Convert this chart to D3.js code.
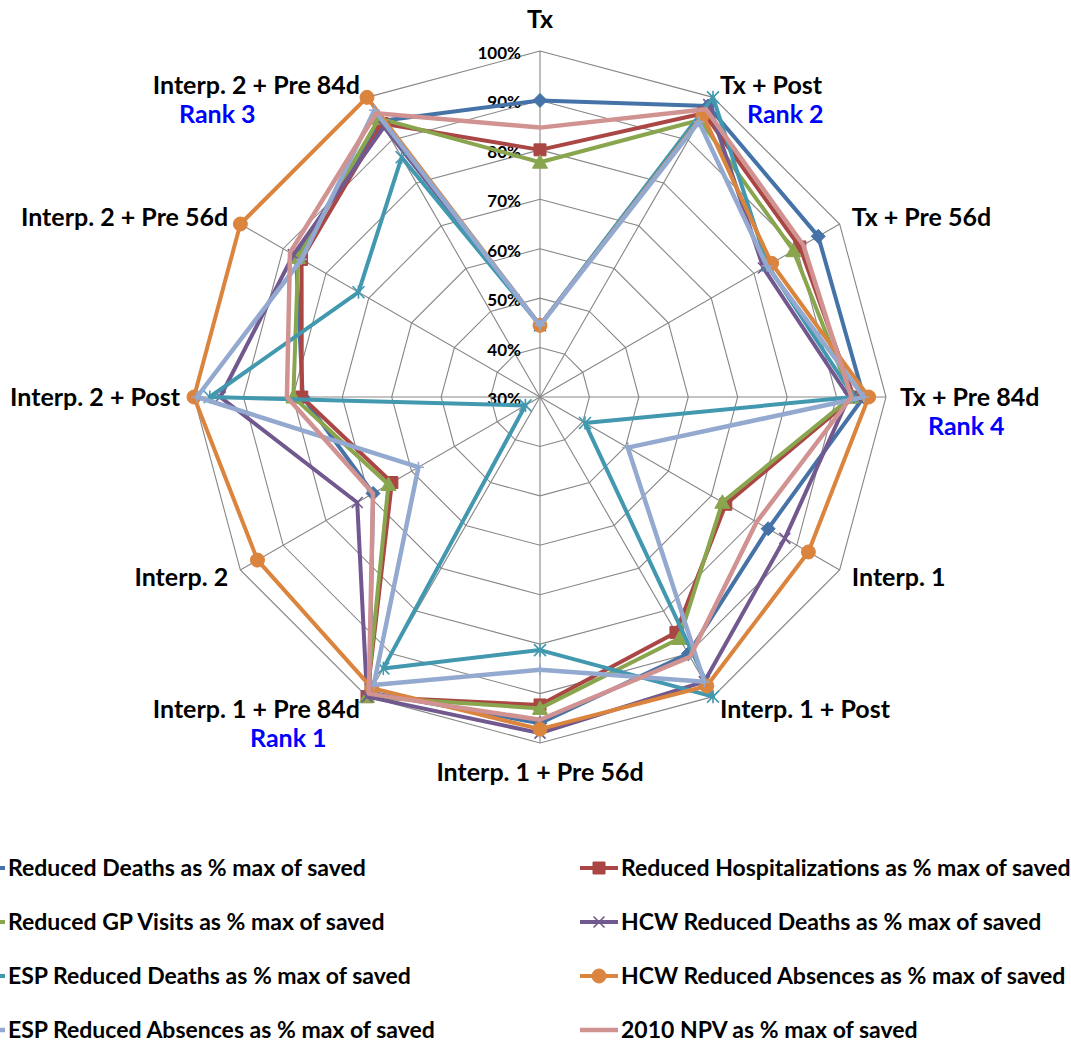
<!DOCTYPE html>
<html>
<head>
<meta charset="utf-8">
<script src="https://cdn.jsdelivr.net/npm/d3@7"></script>
<style>
  body { margin: 0; background: #fff; }
  svg { display: block; font-family: Lato, "Open Sans", sans-serif; font-weight: 700; }
</style>
</head>
<body>
<svg id="chart" width="1071" height="1044"></svg>
<script>
// Strategy axes, clockwise from the top
const categories = [
  "Tx", "Tx + Post", "Tx + Pre 56d", "Tx + Pre 84d",
  "Interp. 1", "Interp. 1 + Post", "Interp. 1 + Pre 56d", "Interp. 1 + Pre 84d",
  "Interp. 2", "Interp. 2 + Post", "Interp. 2 + Pre 56d", "Interp. 2 + Pre 84d"
];

// Radial axis ticks (fraction of the maximum saved)
const levelTicks = [0.3, 0.4, 0.5, 0.6, 0.7, 0.8, 0.9, 1.0];

// Each outcome as a share of the best strategy's result
const reducedDeaths        = [0.900, 0.980, 0.950, 0.955, 0.833, 0.900, 0.960, 0.990, 0.690, 0.780, 0.870, 0.945];
const reducedHosp          = [0.800, 0.963, 0.907, 0.935, 0.734, 0.850, 0.923, 1.000, 0.646, 0.782, 0.857, 0.939];
const reducedGPVisits      = [0.775, 0.947, 0.892, 0.930, 0.726, 0.864, 0.930, 1.000, 0.654, 0.799, 0.865, 0.951];
const hcwReducedDeaths     = [0.445, 0.983, 0.822, 0.925, 0.872, 0.965, 0.980, 1.000, 0.727, 0.947, 0.876, 0.931];
const espReducedDeaths     = [0.445, 1.000, 0.832, 0.935, 0.405, 1.000, 0.812, 0.934, 0.334, 0.968, 0.724, 0.860];
const hcwReducedAbsences   = [0.445, 0.959, 0.841, 0.965, 0.927, 0.975, 0.972, 0.980, 0.960, 1.000, 1.000, 1.000];
const espReducedAbsences   = [0.445, 0.943, 0.830, 0.955, 0.505, 0.965, 0.852, 0.973, 0.584, 0.994, 0.857, 0.970];
const npv2010              = [0.845, 0.972, 0.915, 0.930, 0.806, 0.907, 0.953, 0.993, 0.690, 0.812, 0.884, 0.963];

const seriesNames = [
  "Reduced Deaths as % max of saved",
  "Reduced Hospitalizations as % max of saved",
  "Reduced GP Visits as % max of saved",
  "HCW Reduced Deaths as % max of saved",
  "ESP Reduced Deaths as % max of saved",
  "HCW Reduced Absences as % max of saved",
  "ESP Reduced Absences as % max of saved",
  "2010 NPV as % max of saved"
];
const seriesValues = [
  reducedDeaths, reducedHosp, reducedGPVisits, hcwReducedDeaths,
  espReducedDeaths, hcwReducedAbsences, espReducedAbsences, npv2010
];

// Rank notes attached to axis labels
const rankNotes = [
  { category: "Interp. 1 + Pre 84d", text: "Rank 1" },
  { category: "Tx + Post",           text: "Rank 2" },
  { category: "Interp. 2 + Pre 84d", text: "Rank 3" },
  { category: "Tx + Pre 84d",        text: "Rank 4" }
];

// ---- styling ----
const colors  = ["#4572A7", "#AA4643", "#89A54E", "#71588F", "#4198AF", "#DB843D", "#93A9CF", "#D19392"];
const markers = ["diamond", "square", "triangle", "times", "star", "circle", "plus", null];
const widths  = [4, 4, 4, 4, 4, 4, 4.5, 4.5];
// horizontal shift of each rank note relative to the left edge of its axis label
const rankDx  = { "Rank 1": 72, "Rank 2": 27, "Rank 3": 1, "Rank 4": 28 };
const labelWidth = 182;

const cx = 540, cy = 397, R = 346;
const svg = d3.select("#chart");
svg.append("rect").attr("width", 1071).attr("height", 1044).attr("fill", "#fff");

const r = d3.scaleLinear().domain([0.3, 1.0]).range([0, R]);
const angle = d3.scaleLinear().domain([0, categories.length]).range([0, 2 * Math.PI]);

const plot = svg.append("g").attr("transform", `translate(${cx},${cy})`);

// grid polygons
const ring = d3.lineRadial()
  .angle((d, i) => angle(i))
  .radius(d => r(d))
  .curve(d3.curveLinearClosed);

plot.append("g").selectAll("path")
  .data(levelTicks.filter(t => t > 0.3))
  .join("path")
  .attr("d", t => ring(categories.map(() => t)))
  .attr("fill", "none")
  .attr("stroke", "#878787")
  .attr("stroke-width", 1.1);

// spokes
plot.append("g").selectAll("line")
  .data(categories)
  .join("line")
  .attr("x1", 0).attr("y1", 0)
  .attr("x2", (d, i) => d3.pointRadial(angle(i), r(1))[0])
  .attr("y2", (d, i) => d3.pointRadial(angle(i), r(1))[1])
  .attr("stroke", "#878787")
  .attr("stroke-width", 1.1);

// tick labels along the top spoke
const pct = d3.format(".0%");
plot.append("g").selectAll("text")
  .data(levelTicks)
  .join("text")
  .attr("x", -19)
  .attr("y", t => -r(t) + 8)
  .attr("text-anchor", "end")
  .attr("font-size", 17)
  .attr("fill", "#000")
  .text(t => pct(t));

// marker shapes
const symbolDefs = {
  diamond:  { draw(c, s) { const h = Math.sqrt(s) / 2; c.moveTo(0, -h); c.lineTo(h, 0); c.lineTo(0, h); c.lineTo(-h, 0); c.closePath(); } },
  square:   { draw(c, s) { const h = Math.sqrt(s) / 2; c.rect(-h, -h, 2 * h, 2 * h); } },
  triangle: { draw(c, s) { const h = Math.sqrt(s) / 2; c.moveTo(0, -h); c.lineTo(h, h * 0.8); c.lineTo(-h, h * 0.8); c.closePath(); } },
  circle:   { draw(c, s) { const h = Math.sqrt(s) / 2; c.moveTo(h, 0); c.arc(0, 0, h, 0, 2 * Math.PI); } },
  times:    { draw(c, s) { const h = Math.sqrt(s) / 2; c.moveTo(-h, -h); c.lineTo(h, h); c.moveTo(-h, h); c.lineTo(h, -h); } },
  plus:     { draw(c, s) { const h = Math.sqrt(s) / 2; c.moveTo(-h, 0); c.lineTo(h, 0); c.moveTo(0, -h); c.lineTo(0, h); } },
  star:     { draw(c, s) { const h = Math.sqrt(s) / 2; c.moveTo(-h, -h); c.lineTo(h, h); c.moveTo(-h, h); c.lineTo(h, -h); c.moveTo(0, -h * 1.1); c.lineTo(0, h * 1.1); } }
};
const markerSize = { diamond: 14, square: 12, triangle: 15, circle: 14, times: 11, plus: 11, star: 12 };
const strokeMarker = { times: true, plus: true, star: true };

function drawMarker(g, kind, color, x, y) {
  if (!kind) return;
  const s = markerSize[kind];
  const p = d3.symbol().type(symbolDefs[kind]).size(s * s)();
  g.append("path")
    .attr("d", p)
    .attr("transform", `translate(${x},${y})`)
    .attr("fill", strokeMarker[kind] ? "none" : color)
    .attr("stroke", color)
    .attr("stroke-width", strokeMarker[kind] ? 1.6 : 1);
}

// series
const seriesLayer = plot.append("g");
seriesValues.forEach((vals, si) => {
  const g = seriesLayer.append("g");
  g.append("path")
    .attr("d", ring(vals))
    .attr("fill", "none")
    .attr("stroke", colors[si])
    .attr("stroke-width", widths[si])
    .attr("stroke-linejoin", "round");
  vals.forEach((v, i) => {
    const [x, y] = d3.pointRadial(angle(i), r(v));
    drawMarker(g, markers[si], colors[si], x, y);
  });
});

// axis labels
const labelLayer = svg.append("g").attr("font-size", 25).attr("fill", "#000");
const labelPos = {};
categories.forEach((name, i) => {
  const a = angle(i);
  const sx = Math.sin(a), cyA = Math.cos(a);
  let x, y, anchor;
  if (Math.abs(sx) < 1e-6) {
    anchor = "middle";
    x = cx;
    y = cyA > 0 ? cy - R - 23 : cy + R + 38;
  } else {
    anchor = sx > 0 ? "start" : "end";
    const [px, py] = d3.pointRadial(a, R + 14);
    x = cx + px;
    y = cy + py + 9;
  }
  labelPos[name] = { x, y, anchor };
  labelLayer.append("text")
    .attr("x", x).attr("y", y)
    .attr("text-anchor", anchor)
    .text(name);
});

// rank notes under selected labels
rankNotes.forEach(n => {
  const p = labelPos[n.category];
  const left = p.anchor === "end" ? p.x - labelWidth : p.x;
  labelLayer.append("text")
    .attr("x", left + rankDx[n.text])
    .attr("y", p.y + 29)
    .attr("fill", "#0000FF")
    .text(n.text);
});

// legend: two columns, four rows
const legend = svg.append("g").attr("font-size", 23).attr("fill", "#000");
seriesNames.forEach((name, si) => {
  const col = si % 2, row = Math.floor(si / 2);
  const mx = col === 0 ? -14 : 599;
  const my = 868 + row * 54;
  const item = legend.append("g");
  item.append("line")
    .attr("x1", mx - 19).attr("x2", mx + 19)
    .attr("y1", my).attr("y2", my)
    .attr("stroke", colors[si])
    .attr("stroke-width", widths[si]);
  drawMarker(item, markers[si], colors[si], mx, my);
  item.append("text")
    .attr("x", mx + 22)
    .attr("y", my + 8)
    .text(name);
});
</script>
</body>
</html>
